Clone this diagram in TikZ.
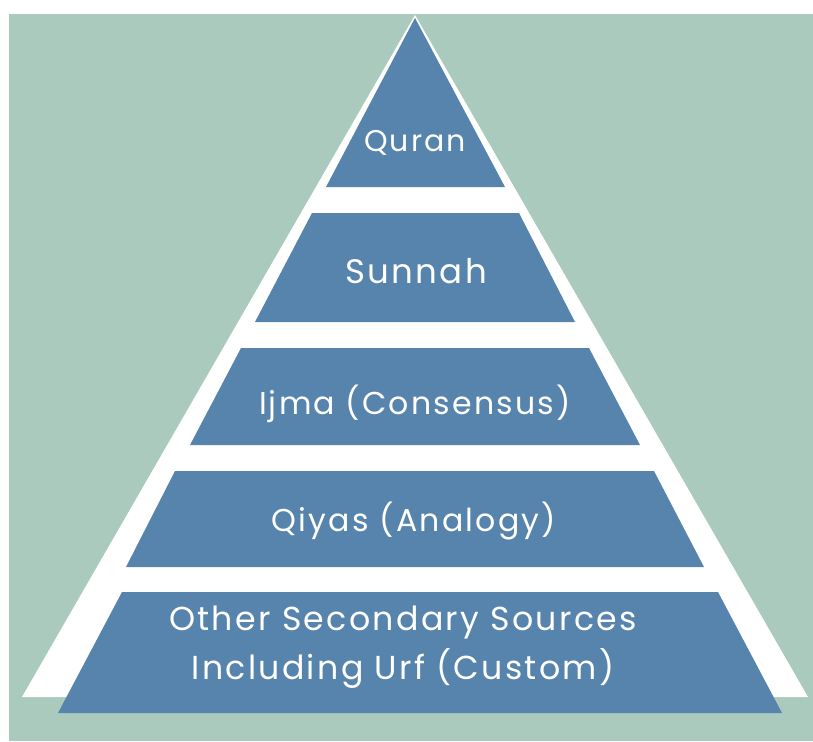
\documentclass[tikz,border=0pt]{standalone}
\usepackage{fontspec}
\setmainfont{Poppins}[LetterSpace=7]
\definecolor{sage}{RGB}{169,202,189}
\definecolor{tierblue}{RGB}{86,132,172}
\begin{document}
\begin{tikzpicture}[x=1pt,y=-1pt,
  tier/.style={fill=tierblue},
  tierlabel/.style={text=white, inner sep=0pt, align=center,
    font=\fontsize{31.6}{49}\selectfont}]
\useasboundingbox (0,0) rectangle (813,741);
% page and backdrop
\fill[white] (0,0) rectangle (813,741);
\fill[sage] (9,14) rectangle (813,741);
% white pyramid outline
\fill[white] (415,15) -- (808,697) -- (22,697) -- cycle;
% tiers, from the apex down
\fill[tier] (415,18) -- (505,187) -- (326,187) -- cycle;
\fill[tier] (312,213) -- (519,213) -- (575,322) -- (255,322) -- cycle;
\fill[tier] (241,348) -- (589,348) -- (640,445) -- (190,445) -- cycle;
\fill[tier] (175,471) -- (654,471) -- (704,567) -- (126,567) -- cycle;
\fill[tier] (122,592) -- (718,592) -- (782,713) -- (58,713) -- cycle;
% tier labels
\node[tierlabel, font=\fontsize{30}{36}\selectfont] (quran) at (415,143) {Quran};
\node[tierlabel, font=\fontsize{34}{40}\selectfont] (sunnah) at (416,271) {Sunnah};
\node[tierlabel] (ijma) at (415,404) {Ijma (Consensus)};
\node[tierlabel] (qiyas) at (414,521) {Qiyas (Analogy)};
\node[tierlabel, font=\fontsize{33.2}{49}\selectfont] (other) at (403,647) {Other Secondary Sources\\Including Urf (Custom)};
\end{tikzpicture}
\end{document}
